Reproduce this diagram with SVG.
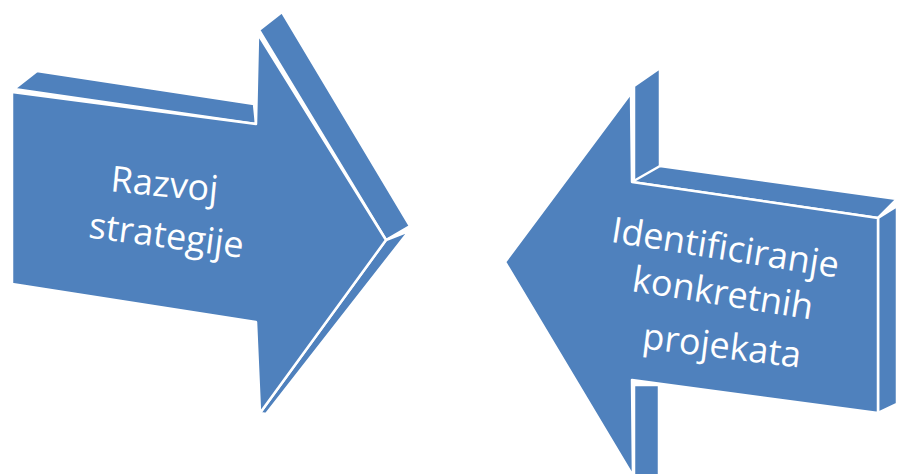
<svg xmlns="http://www.w3.org/2000/svg" width="897" height="474" viewBox="0 0 897 474">
<style>
.face{fill:#4F81BD;stroke:#ffffff;stroke-width:2.5;stroke-linejoin:round}
.label{font-family:"Open Sans","Noto Sans",sans-serif;font-size:36px;fill:#ffffff;text-anchor:middle}
</style>
<rect width="897" height="474" fill="#ffffff"/>
<g id="arrow-left">
<polygon class="face" points="14,89 37,71 254,104 256,124"/>
<polygon class="face" points="259,30 282,12 410,226 386,240"/>
<polygon class="face" points="386,240 409,231 266,414 260,413"/>
<polygon class="face" points="12,92 256,124 258,34 386,240 260,413 256,322 12,284"/>
<text class="label" x="163.5" y="196.5" transform="rotate(5.5 163.5 196.5)">Razvoj</text>
<text class="label" x="165" y="247.7" transform="rotate(7.5 165 247.7)">strategije</text>
</g>
<g id="arrow-right">
<polygon class="face" points="634,86 660,68 660,168 634,182"/>
<polygon class="face" points="632,182 660,166 897,199 878,218"/>
<polygon class="face" points="878,218 897,206 897,404 878,413"/>
<polygon class="face" points="634,385 659,385 659,476 634,476"/>
<polygon class="face" points="505,262 631,93 632,182 878,218 878,413 632,380 633,476"/>
<text class="label" x="723.5" y="259.8" transform="rotate(9 723.5 259.8)">Identificiranje</text>
<text class="label" x="721" y="305.2" transform="rotate(9 721 305.2)">konkretnih</text>
<text class="label" x="720.5" y="358" transform="rotate(7 720.5 358)">projekata</text>
</g>
<g id="connectors"/>
</svg>
